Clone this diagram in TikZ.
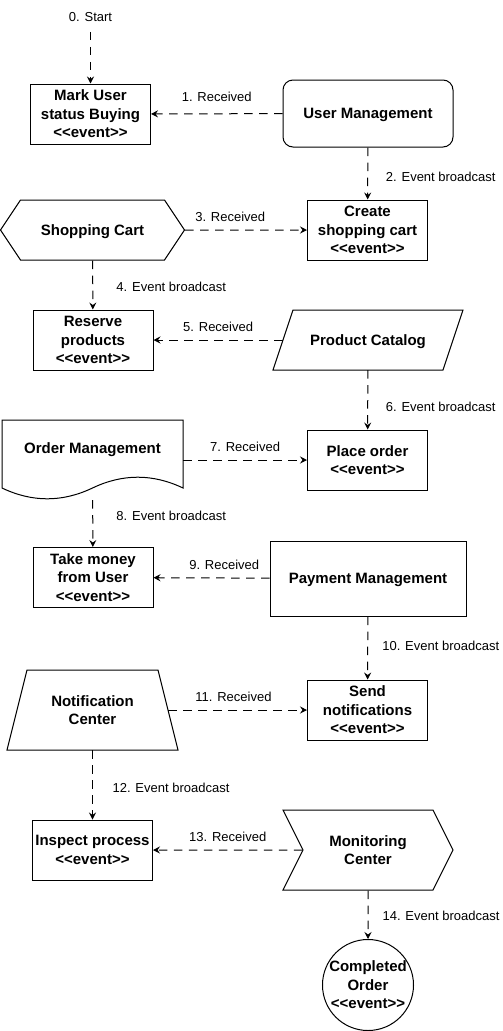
\documentclass[tikz,border=0pt]{standalone}
\usepackage{fontspec}
\setmainfont{Liberation Sans}
\usepackage{tikz}
\usetikzlibrary{arrows.meta,shapes.symbols}
\tikzset{>={Stealth[length=7pt,width=7pt,inset=2.5pt]}}
\tikzset{
  every node/.style={font=\fontsize{15}{18.5}\selectfont\bfseries, align=center, inner sep=0pt},
  evbox/.style={draw, line width=1pt, minimum width=120pt, minimum height=60pt, text depth=-5pt},
  svcbox/.style={draw, line width=1pt, text depth=-5pt},
  svctext/.style={text depth=-5pt},
  flow/.style={->, line width=1pt, dash pattern=on 8.5pt off 6.5pt},
  hlbl/.style={font=\fontsize{13}{15}\selectfont, yshift=13pt},
  vlbl/.style={font=\fontsize{13}{15}\selectfont, xshift=73pt},
}
\newcommand{\evtag}{<{}<event>{}>}

\begin{document}
\begin{tikzpicture}[x=1pt,y=-1pt]
  \useasboundingbox (0,0) rectangle (503,1031);
  % events, left column
  \node[font=\fontsize{13}{15}\selectfont] at (90.5,17) (start) {0. Start};
  \node[evbox] at (90.5,114) (markuser) {Mark User\\status Buying\\\evtag};
  \node[svcbox, signal, signal to=west and east, signal pointer angle=112.6, minimum width=184pt, minimum height=60pt] at (92.5,230) (cart) {Shopping Cart};
  \node[evbox] at (93,340) (reserve) {Reserve\\products\\\evtag};
  \node[minimum width=181pt, minimum height=80pt, label={[yshift=10pt]center:Order Management}] at (92.5,460) (ordermgmt) {};
  \draw[line width=1pt] (2,488) -- (2,420) -- (183,420) -- (183,488)
    .. controls (152.8,473.6) and (122.7,473.6) .. (92.5,488)
    .. controls (62.3,502.4) and (32.2,502.4) .. (2,488) -- cycle;
  \node[evbox] at (93,577.5) (takemoney) {Take money\\from User\\\evtag};
  \node[svctext, minimum width=151pt, minimum height=80pt] at (92.5,710) (notif) {Notification\\Center};
  \draw[line width=1pt] (7,750) -- (27,670) -- (158,670) -- (178,750) -- cycle;
  \node[evbox] at (92.5,850) (inspect) {Inspect process\\\evtag};
  % services and events, right column
  \node[svcbox, rounded corners=10pt, minimum width=170pt, minimum height=67pt] at (368,113.5) (usermgmt) {User Management};
  \node[evbox] at (367.5,230) (create) {Create\\shopping cart\\\evtag};
  \node[svctext, minimum width=170pt, minimum height=60pt] at (368,340) (prodcat) {Product Catalog};
  \draw[line width=1pt] (273,370) -- (293,310) -- (463,310) -- (443,370) -- cycle;
  \node[evbox] at (367.5,460) (place) {Place order\\\evtag};
  \node[svcbox, minimum width=196pt, minimum height=75pt] at (368,578.5) (paymgmt) {Payment Management};
  \node[evbox] at (367.5,710) (sendnotif) {Send\\notifications\\\evtag};
  \node[svcbox, signal, signal from=west, signal to=east, signal pointer angle=126.9, minimum width=170pt, minimum height=80pt] at (368,850) (moncenter) {Monitoring\\Center};
  \node[svcbox, circle, minimum size=90pt] at (368,985) (completed) {Completed\\Order\\\evtag};
  % message flow
  \draw[flow, shorten <=10pt] (start) -- (markuser);
  \draw[flow] (usermgmt) -- node[hlbl, yshift=4pt] {1. Received} (markuser);
  \draw[flow] (usermgmt) -- node[vlbl, pos=0.57] {2. Event broadcast} (create);
  \draw[flow] (cart) -- node[hlbl, pos=0.37] {3. Received} (create);
  \draw[flow] (cart) -- node[vlbl, xshift=5.5pt, pos=0.54] {4. Event broadcast} (reserve);
  \draw[flow] (prodcat) -- node[hlbl] {5. Received} (reserve);
  \draw[flow] (prodcat) -- node[vlbl, pos=0.61] {6. Event broadcast} (place);
  \draw[flow] (ordermgmt) -- node[hlbl] {7. Received} (place);
  \draw[flow] (ordermgmt) -- node[vlbl, xshift=5.5pt, pos=0.34] {8. Event broadcast} (takemoney);
  \draw[flow] (paymgmt) -- node[hlbl, pos=0.39] {9. Received} (takemoney);
  \draw[flow] (paymgmt) -- node[vlbl, pos=0.47] {10. Event broadcast} (sendnotif);
  \draw[flow] (notif) -- node[hlbl, pos=0.47] {11. Received} (sendnotif);
  \draw[flow] (notif) -- node[vlbl, xshift=5.5pt, pos=0.54] {12. Event broadcast} (inspect);
  \draw[flow] (moncenter) -- node[hlbl] {13. Received} (inspect);
  \draw[flow] (moncenter) -- node[vlbl, pos=0.53] {14. Event broadcast} (completed);
\end{tikzpicture}
\end{document}
